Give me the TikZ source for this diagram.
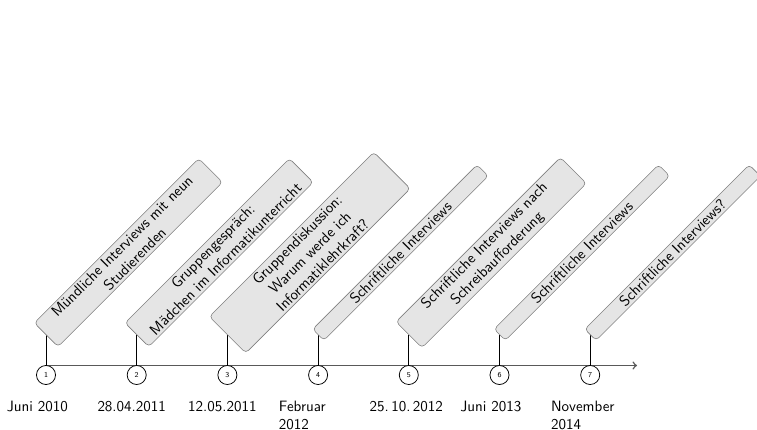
\documentclass[tikz,border=0pt]{standalone}
\begin{document}
\begin{tikzpicture}[x=0.6667pt, y=-0.6667pt, font=\sffamily,
  event/.style={draw=black!50, fill=black!10, rounded corners=2.5pt,
    rotate=45, anchor=west, align=center, text width=151pt,
    inner xsep=2pt, inner ysep=1.6pt},
  stem/.style={black, line width=0.5pt},
  axisline/.style={draw=black!65, line width=1pt, ->},
  num/.style={circle, draw=black, line width=0.5pt, fill=white, inner sep=0pt,
    minimum size=12.7pt, font=\sffamily\tiny},
  datelabel/.style={anchor=north west, inner sep=0pt, align=left}]
  \useasboundingbox (0,0) rectangle (757,430);

  % time axis
  \coordinate (axstart) at (46,365.5);
  \coordinate (axend) at (637,365.5);
  \draw[axisline] (axstart) -- (axend);

  % events along the axis
  \foreach \i/\ev/\dt in {
      1/{Mündliche Interviews mit neun\\Studierenden}/{Juni 2010},
      2/{Gruppengespräch:\\Mädchen im Informatikunterricht}/{28.04.2011},
      3/{Gruppendiskussion:\\Warum werde ich\\Informatiklehrkraft?}/{12.05.2011},
      4/{Schriftliche Interviews}/{Februar\\2012},
      5/{Schriftliche Interviews nach\\Schreibaufforderung}/{25.\,10.\,2012},
      6/{Schriftliche Interviews}/{Juni 2013},
      7/{Schriftliche Interviews?}/{November\\2014}}{
    \pgfmathsetmacro{\xx}{46+90.7*(\i-1)}
    \coordinate (tick\i) at (\xx,365.5);
    \coordinate (top\i) at (\xx,335);
    \draw[stem] (tick\i) -- (top\i);
    \node[event] (ev\i) at (top\i) {\ev};
    \node[num] (n\i) at (\xx,375) {\i};
    \node[datelabel] (d\i) at (\xx-39.5,400.8) {\dt};
  }
\end{tikzpicture}
\end{document}
